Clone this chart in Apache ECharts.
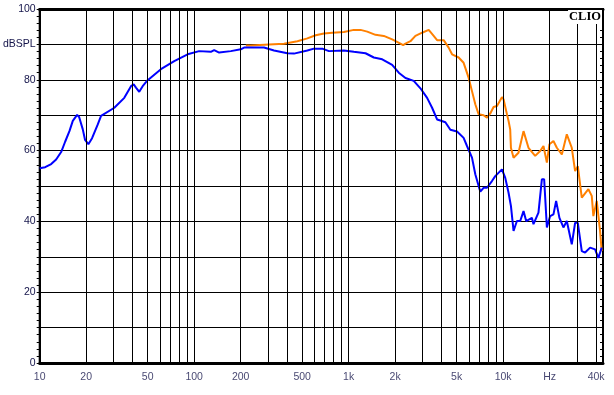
<!DOCTYPE html>
<html>
<head>
<meta charset="utf-8">
<script src="https://cdn.jsdelivr.net/npm/echarts@6/dist/echarts.min.js"></script>
<style>
html,body{margin:0;padding:0;background:#fff;}
#c{width:614px;height:395px;}
</style>
</head>
<body>
<div id="c"></div>
<script>
// Blue curve (frequency Hz, dBSPL)
const blueFreq = [10,10.85,11.87,12.78,13.77,14.61,15.58,16.38,17.47,18.0,19.01,19.67,20.66,21.83,23.77,24.96,30.42,35.29,39.0,40.6,42.0,44.1,46.4,50.0,60.9,74.3,90.7,107.7,128.2,134.7,145.1,172.7,200.3,210.4,283.3,328.7,401.2,442.6,540.3,596.0,675.3,744.9,931.1,1080,1286,1455,1649,1913,2110,2332,2638,2914,3220,3468,3736,3924,4227,4553,5030,5548,5834,6286,6603,7114,7471,7858,8465,8892,9822,10320,10840,11230,11680,12280,12900,13550,14100,15350,15720,16930,17810,18430,19190,20150,21170,22030,23140,24560,25830,27820,29230,30430,32290,33920,36540,39360,41330,43460];
const blueDb = [55.0,55.3,56.2,57.5,59.6,62.5,65.5,68.4,70.1,69.5,66.0,63.0,61.8,63.5,67.4,69.8,72.1,74.9,78.2,78.7,77.8,76.6,78.2,79.9,83.0,85.3,87.2,88.1,87.9,88.4,87.7,88.1,88.6,89.1,89.1,88.3,87.5,87.4,88.3,88.8,88.8,88.1,88.3,87.9,87.5,86.3,85.8,84.2,82.0,80.5,79.7,77.6,74.9,72.1,68.8,68.5,68.0,65.9,65.4,63.6,61.3,58.0,53.3,48.4,49.5,49.5,51.4,52.8,54.7,52.3,48.1,44.4,37.3,40.1,40.1,42.9,40.1,41.0,39.2,42.5,51.9,51.9,38.3,41.5,42.0,45.8,41.0,38.3,40.1,33.5,39.6,39.6,31.6,31.2,32.6,32.1,29.7,32.6];

// Orange curve (frequency Hz, dBSPL)
const orangeFreq = [215.8,232.4,305.1,381.4,465.6,540.3,611.3,691.7,783.6,931.1,1080,1194,1319,1492,1688,1913,2164,2252,2332,2512,2705,2989,3298,3551,3736,4121,4439,4670,5151,5548,5977,6286,6603,6936,7471,7858,8255,8670,9120,9822,10060,10580,10840,11110,11230,11680,12570,13550,14590,16120,17370,18240,19190,19940,21170,22260,23990,25830,27820,29230,30430,32290,35630,37460,38370,40360,42400,43460];
const orangeDb = [89.7,89.7,90.0,90.2,90.9,91.7,92.6,93.1,93.3,93.5,94.1,94.1,93.6,92.7,92.4,91.4,90.2,89.8,90.2,90.9,92.4,93.3,94.1,92.4,91.2,91.2,89.1,87.2,86.3,84.8,80.6,76.8,73.1,70.3,70.0,69.3,70.5,72.3,72.6,75.1,74.5,70.3,68.4,66.0,60.8,58.0,59.4,65.5,60.8,58.5,59.9,61.3,56.6,61.8,62.7,60.8,58.9,64.6,60.8,54.2,55.6,46.7,49.1,47.2,41.5,45.8,37.3,31.6];

// Axis ticks / labels
const xTickValues = [10,20,50,100,200,500,1000,2000,5000,10000,20000,40000];
const xTickLabels = ['10','20','50','100','200','500','1k','2k','5k','10k','Hz','40k'];
const xGridValues = [20,30,40,50,60,70,80,90,100,200,300,400,500,600,700,800,900,1000,2000,3000,4000,5000,6000,7000,8000,9000,10000,20000,30000,40000];
const yLabelMap = {0:'0',20:'20',40:'40',60:'60',80:'80',90:'dBSPL',100:'100'};

const FONT = '"Liberation Sans", Arial, sans-serif';
const LABEL_COLOR = '#14144a';

const chart = echarts.init(document.getElementById('c'), null, {renderer:'canvas'});
chart.setOption({
  backgroundColor: '#ffffff',
  animation: false,
  grid: {left: 38, right: 11, top: 9, bottom: 32, show: true, borderColor: '#000', borderWidth: 2, backgroundColor: '#fff'},
  xAxis: [{
    type: 'log', logBase: 10, min: 10, max: 44300,
    axisLine: {show: true, onZero: false, lineStyle: {color: '#000', width: 3}},
    axisTick: {show: false}, axisLabel: {show: false},
    splitLine: {show: false}, minorTick: {show: false}, minorSplitLine: {show: false}
  }, {
    type: 'log', logBase: 10, min: 10, max: 44300, position: 'top',
    axisLine: {show: true, onZero: false, lineStyle: {color: '#000', width: 3}},
    axisTick: {show: false}, axisLabel: {show: false},
    splitLine: {show: false}, minorTick: {show: false}, minorSplitLine: {show: false}
  }],
  yAxis: [{
    type: 'value', min: 0, max: 100, interval: 10,
    axisLine: {show: true, lineStyle: {color: '#000', width: 2}},
    axisTick: {show: true, length: 3, lineStyle: {color: '#000'}},
    minorTick: {show: true, splitNumber: 5, length: 3, lineStyle: {color: '#000'}},
    splitLine: {show: true, lineStyle: {color: '#000', width: 1}},
    axisLabel: {
      margin: 4, color: LABEL_COLOR, fontSize: 10.5, fontFamily: FONT,
      formatter: v => (yLabelMap[v] !== undefined ? yLabelMap[v] : '')
    }
  }, {
    type: 'value', min: 0, max: 100, interval: 10, position: 'right',
    axisLine: {show: true, lineStyle: {color: '#000', width: 2}},
    axisTick: {show: true, inside: true, length: 3, lineStyle: {color: '#000'}},
    minorTick: {show: true, splitNumber: 5, length: 3, lineStyle: {color: '#000'}},
    splitLine: {show: false}, axisLabel: {show: false}
  }],
  graphic: [{
    type: 'text', right: 12, top: 10, z: 100,
    style: {text: 'CLIO', font: 'bold 12.5px "Liberation Serif", "Times New Roman", serif', fill: '#000',
            backgroundColor: '#fff', padding: [0, 1, 1, 1]}
  }],
  series: [
    {
      type: 'line', name: 'grid', data: [], silent: true,
      markLine: {
        silent: true, symbol: ['none','none'], animation: false,
        label: {show: false},
        lineStyle: {color: '#000', width: 1, type: 'solid'},
        data: xGridValues.map(v => ({xAxis: v}))
      }
    },
    {
      type: 'scatter', name: 'xlabels', silent: true, symbolSize: 1,
      itemStyle: {color: 'rgba(0,0,0,0)'},
      label: {show: true, position: 'bottom', distance: 8, color: LABEL_COLOR, fontSize: 10.5, fontFamily: FONT},
      data: xTickValues.map((v, i) => ({value: [v, 0], label: {formatter: xTickLabels[i]}})),
      z: 10
    },
    {
      type: 'line', name: 'orange', showSymbol: false, symbol: 'none',
      lineStyle: {color: '#ff8000', width: 2}, itemStyle: {color: '#ff8000'},
      data: orangeFreq.map((f, i) => [f, orangeDb[i]]), z: 3
    },
    {
      type: 'line', name: 'blue', showSymbol: false, symbol: 'none',
      lineStyle: {color: '#0000ff', width: 2}, itemStyle: {color: '#0000ff'},
      data: blueFreq.map((f, i) => [f, blueDb[i]]), z: 4
    }
  ]
});
</script>
</body>
</html>
